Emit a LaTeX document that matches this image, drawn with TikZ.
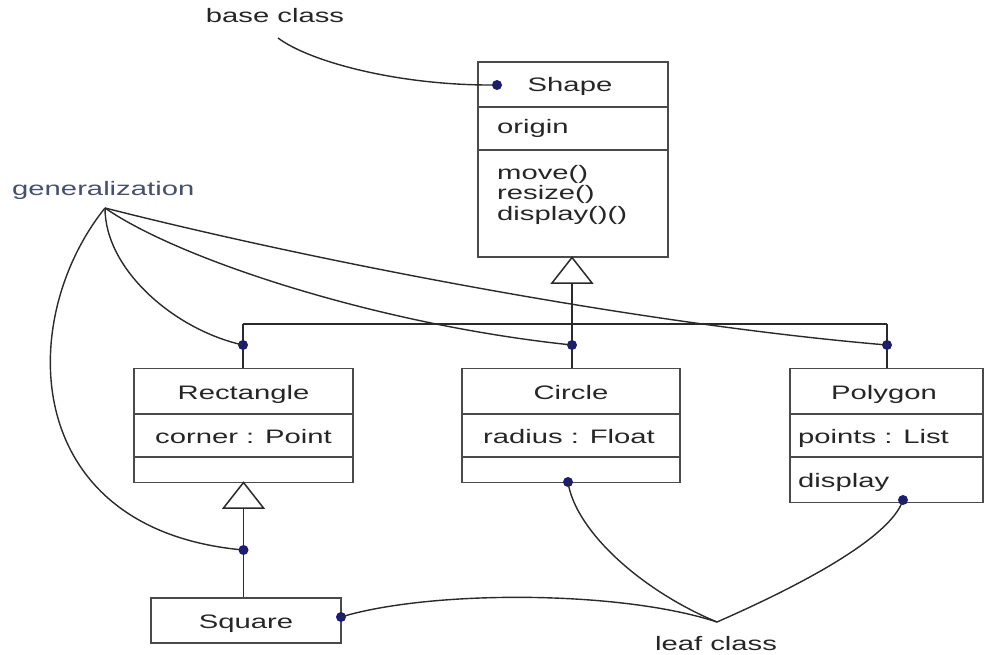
\documentclass[tikz,border=0pt]{standalone}
\usepackage{fontspec}
\setmainfont{Liberation Sans}[FakeStretch=1.5]
\usetikzlibrary{calc}
\definecolor{boxline}{HTML}{4A4A4A}
\definecolor{txt}{HTML}{262626}
\definecolor{gen}{HTML}{45506A}
\definecolor{dotc}{HTML}{1C1C70}
\definecolor{wire}{HTML}{2A2A2A}
\tikzset{
  classbox/.style={draw=boxline, line width=1.7pt, fill=white, inner sep=0pt},
  divider/.style={draw=boxline, line width=1.4pt},
  lbl/.style={text=txt, inner sep=0pt, font=\fontsize{19.5}{20.5}\selectfont},
  note/.style={lbl},
  wirel/.style={draw=wire, line width=1.4pt},
  gentri/.style={draw=wire, line width=1.5pt, fill=white},
  dotpt/.style={circle, fill=dotc, inner sep=0pt, minimum size=10pt},
}
\begin{document}
\begin{tikzpicture}[x=1pt,y=-1pt]
\useasboundingbox[fill=white] (0,0) rectangle (998,655);

% ---------- class boxes ----------
\node[classbox, minimum width=190pt, minimum height=195pt] (shape) at (573,159.5) {};
\draw[divider] (478,107) -- (668,107);
\draw[divider] (478,150) -- (668,150);
\node[lbl, anchor=base] (shapeN) at (570,92) {Shape};
\node[lbl, anchor=base west] (shapeA) at (497,134) {origin};
\node[lbl, anchor=base west] (shapeM1) at (497,179) {move()};
\node[lbl, anchor=base west] (shapeM2) at (497,199.5) {resize()};
\node[lbl, anchor=base west] (shapeM3) at (497,220) {display()()};

\node[classbox, minimum width=219pt, minimum height=114pt] (rect) at (243.5,425.5) {};
\draw[divider] (134,414) -- (353,414);
\draw[divider] (134,457) -- (353,457);
\node[lbl, anchor=base] (rectN) at (243.5,399) {Rectangle};
\node[lbl, anchor=base] (rectA) at (243.5,443) {corner : Point};

\node[classbox, minimum width=218pt, minimum height=114pt] (circ) at (571,425.5) {};
\draw[divider] (462,414) -- (680,414);
\draw[divider] (462,457) -- (680,457);
\node[lbl, anchor=base] (circN) at (571,399) {Circle};
\node[lbl, anchor=base] (circA) at (569,443) {radius : Float};

\node[classbox, minimum width=193pt, minimum height=134pt] (poly) at (886.5,435.5) {};
\draw[divider] (790,414) -- (983,414);
\draw[divider] (790,457) -- (983,457);
\node[lbl, anchor=base] (polyN) at (884,399) {Polygon};
\node[lbl, anchor=base west] (polyA) at (798,443) {points : List};
\node[lbl, anchor=base west] (polyM) at (798,487) {display};

\node[classbox, minimum width=190pt, minimum height=45pt] (sq) at (246,620.5) {};
\node[lbl, anchor=base] (sqN) at (246,628) {Square};

% ---------- generalization hierarchy ----------
\coordinate (barL) at (243,324);
\coordinate (barM) at (572,324);
\coordinate (barR) at (887,324);
\draw[wirel] (barL) -- (barR);
\draw[wirel] (barL) -- (rect.north -| barL);
\draw[wirel] (barR) -- (poly.north -| barR);
\coordinate (triS) at (572,283);
\draw[wirel] (triS) -- (circ.north -| triS);
\draw[gentri] (572,257.5) -- (552,283) -- (592,283) -- cycle;

\coordinate (triR) at (243.5,508);
\draw[wirel] (triR) -- (sq.north -| triR);
\draw[gentri] (243.5,482.5) -- (223.5,508) -- (263.5,508) -- cycle;

% ---------- dots ----------
\node[dotpt] (dShape) at (497,85) {};
\node[dotpt] (dRect) at (243,345) {};
\node[dotpt] (dCirc) at (572,345) {};
\node[dotpt] (dPoly) at (887,345) {};
\node[dotpt] (dSqTop) at (243.5,550) {};
\node[dotpt] (dCircB) at (568,482) {};
\node[dotpt] (dPolyB) at (903,500) {};
\node[dotpt] (dSq) at (341,617) {};

% ---------- notes ----------
\node[note, anchor=base] (base) at (275,23) {base class};
\node[note, anchor=base west, text=gen] (genl) at (12,196) {generalization};
\node[note, anchor=base] (leaf) at (716,650) {leaf class};

\coordinate (baseP) at (278,38);
\coordinate (genP) at (105,208);
\coordinate (leafP) at (717,622);

\draw[wirel] (baseP) .. controls (310,62) and (400,86) .. (dShape.center);
\draw[wirel] (genP) .. controls (105,270) and (175,330) .. (dRect.center);
\draw[wirel] (genP) .. controls (180,260) and (380,325) .. (dCirc.center);
\draw[wirel] (genP) .. controls (330,265) and (650,325) .. (dPoly.center);
\draw[wirel] (genP) .. controls (15,320) and (20,530) .. (dSqTop.center);
\draw[wirel] (dCircB.center) .. controls (575,530) and (640,590) .. (leafP);
\draw[wirel] (dPolyB.center) .. controls (890,540) and (790,590) .. (leafP);
\draw[wirel] (dSq.center) .. controls (430,590) and (620,590) .. (leafP);
\end{tikzpicture}
\end{document}
